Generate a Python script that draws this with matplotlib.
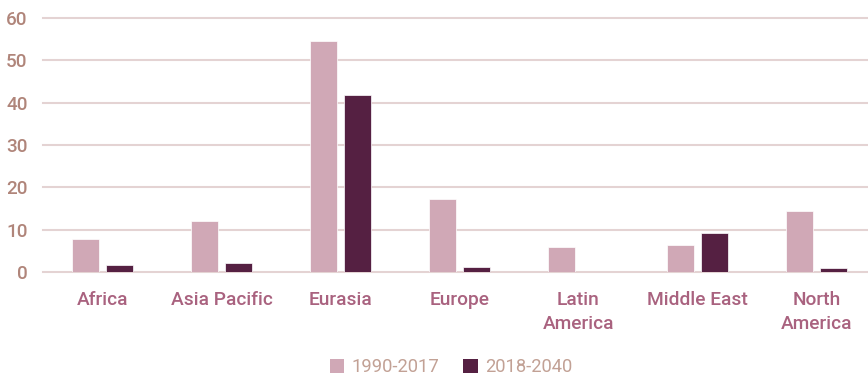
import matplotlib
matplotlib.use("Agg")
import matplotlib.pyplot as plt
from matplotlib.patches import Patch
import numpy as np

categories = ["Africa", "Asia Pacific", "Eurasia", "Europe", "Latin\nAmerica", "Middle East", "North\nAmerica"]
series_names = ["1990-2017", "2018-2040"]
vals_1990_2017 = [7.7, 12.1, 54.5, 17.2, 5.9, 6.4, 14.3]
vals_2018_2040 = [1.6, 2.2, 41.9, 1.1, 0.0, 9.2, 0.9]
yticks = [0, 10, 20, 30, 40, 50, 60]

c_light = "#D0A8B6"
c_dark = "#552042"
c_grid = "#E4D3D3"
c_ytick = "#B0857A"
c_xtick = "#A9627F"
c_legend = "#C2A195"

plt.rcParams['font.family'] = ['Roboto', 'DejaVu Sans']

W, H = 868, 377
fig = plt.figure(figsize=(W / 100, H / 100), dpi=100)
left = 43 / W
bottom = (H - 272) / H
top = (H - 18) / H
ax = fig.add_axes([left, bottom, 1 - left, top - bottom])

x = np.arange(len(categories))
bw = 0.225
off = 0.142
ax.bar(x - off, vals_1990_2017, width=bw, color=c_light, edgecolor="white", linewidth=0.5, zorder=3)
ax.bar(x + off, vals_2018_2040, width=bw, color=c_dark, edgecolor="white", linewidth=0.5, zorder=3)

ax.set_ylim(0, 60)
ax.set_xlim(-0.5, (W - 43) / 119 - 0.5)
ax.set_yticks(yticks)
ax.set_yticklabels([str(v) for v in yticks])
ax.set_xticks(x)
ax.set_xticklabels(categories, linespacing=1.4)
for s in ax.spines.values():
    s.set_visible(False)
ax.yaxis.grid(True, color=c_grid, linewidth=1.5, zorder=0)
ax.set_axisbelow(True)
for gl in ax.get_ygridlines():
    gl.set_clip_on(False)
ax.tick_params(axis="y", length=0, pad=11, labelsize=13.6, labelcolor=c_ytick)
ax.tick_params(axis="x", length=0, pad=14, labelsize=13.8, labelcolor=c_xtick)
for t in ax.get_yticklabels():
    t.set_fontweight("medium")
for t in ax.get_xticklabels():
    t.set_fontweight("medium")

handles = [Patch(facecolor=c_light, edgecolor="none"), Patch(facecolor=c_dark, edgecolor="none")]
leg = fig.legend(handles, series_names, loc="center", bbox_to_anchor=(451 / W, (H - 367) / H),
                 ncol=2, frameon=False, handlelength=0.8, handleheight=0.8, handletextpad=0.4,
                 columnspacing=1.3, prop={"family": "Roboto", "weight": "normal", "size": 13.2})
for t in leg.get_texts():
    t.set_color(c_legend)

fig.savefig("out.png", dpi=100)
